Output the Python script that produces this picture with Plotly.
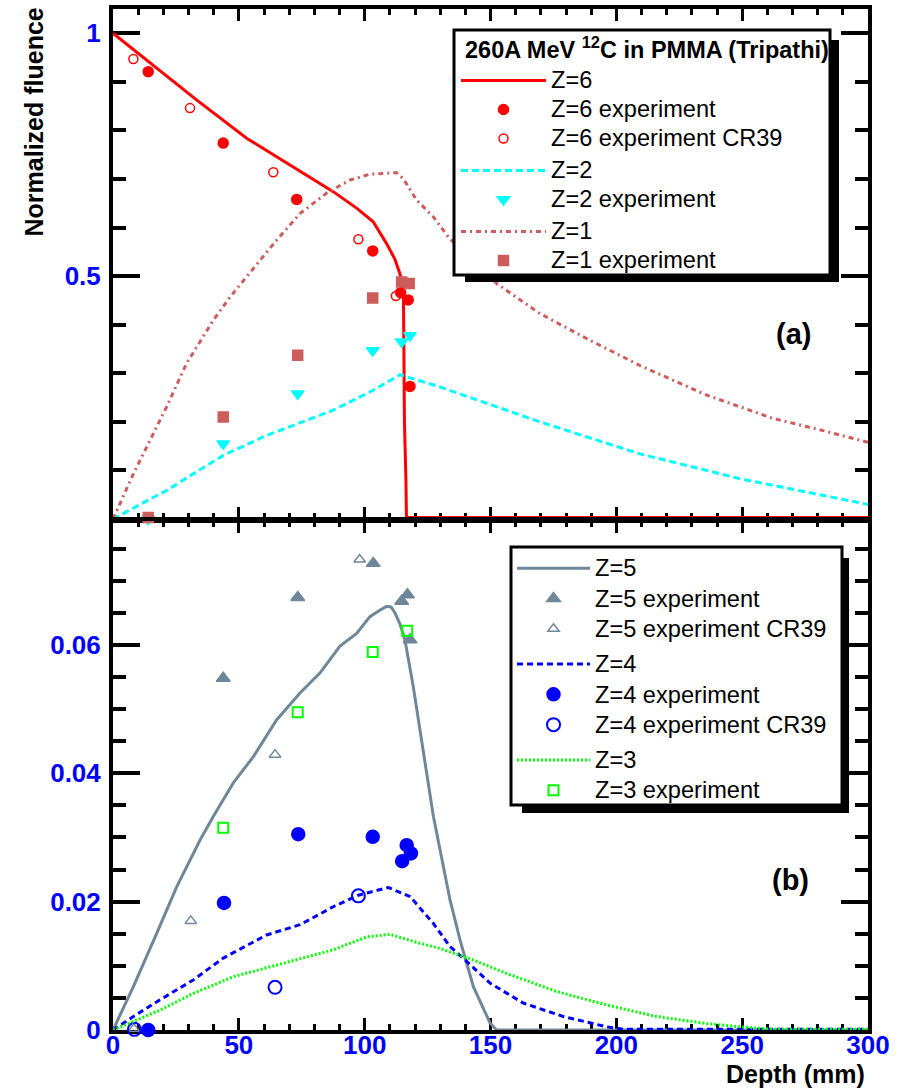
import plotly.graph_objects as go

# ---------------- data ----------------
# Panel (a): Z=6, Z=2, Z=1
z6_x = [0, 13.4, 33.2, 53.1, 65, 87.5, 96.8, 103.4, 108.7, 112, 114, 115.4, 115.5, 115.6, 115.8, 116.4, 116.6, 300]
z6_y = [1.0, 0.945, 0.863, 0.784, 0.746, 0.674, 0.640, 0.612, 0.567, 0.535, 0.505, 0.48, 0.40, 0.32, 0.20, 0.079, 0.003, 0.003]
z6_exp_x = [14, 43.8, 73, 103.2, 114.3, 117.3, 118]
z6_exp_y = [0.921, 0.774, 0.658, 0.552, 0.466, 0.451, 0.273]
z6_cr39_x = [8.1, 30.6, 63.7, 97.5, 112.4]
z6_cr39_y = [0.947, 0.846, 0.714, 0.576, 0.459]

z2_x = [0, 21.3, 43.8, 61, 87.5, 103.4, 114, 118, 129.9, 169.6, 209.4, 249.1, 275.6, 300]
z2_y = [0.0, 0.059, 0.131, 0.172, 0.224, 0.265, 0.297, 0.291, 0.272, 0.200, 0.134, 0.083, 0.055, 0.030]
z2_exp_x = [14, 43.8, 73.4, 103.2, 114.7, 118]
z2_exp_y = [0.0, 0.155, 0.258, 0.347, 0.365, 0.378]

z1_x = [0, 8.1, 14.7, 21.3, 29.2, 39.8, 46.5, 65, 74.3, 84.9, 94.2, 102.1, 112.7, 115.3,
        120.6, 127.3, 133.2, 140, 152.4, 169.6, 189.5, 209.4, 235.9, 262.3, 282.2, 300]
z1_y = [0.0, 0.093, 0.162, 0.231, 0.320, 0.409, 0.457, 0.574, 0.629, 0.671, 0.698, 0.710, 0.713, 0.701,
        0.657, 0.622, 0.581, 0.545, 0.485, 0.423, 0.368, 0.316, 0.255, 0.207, 0.182, 0.158]
z1_exp_x = [14, 43.8, 73.4, 103.2, 114.7, 117.7]
z1_exp_y = [0.003, 0.210, 0.337, 0.455, 0.488, 0.485]

# Panel (b): Z=5, Z=4, Z=3
z5_x = [0, 8.1, 17.4, 25.3, 34.6, 39.9, 47.8, 55.8, 65, 74.3, 82.2, 90.2, 96.8, 102.1, 106, 108.7,
        110.5, 112, 114, 116, 119.3, 123.3, 127.3, 133.9, 137.9, 143.2, 149.8, 152.4, 300]
z5_y = [0.0, 0.00675, 0.0151, 0.0223, 0.0296, 0.0333, 0.0385, 0.0426, 0.0483, 0.0525, 0.0556, 0.0598,
        0.0618, 0.0644, 0.0654, 0.0660, 0.0659, 0.0650, 0.0633, 0.0608, 0.0535, 0.0431, 0.0333, 0.0203,
        0.0140, 0.00675, 0.0011, 0.0, 0.0]
z5_exp_x = [43.8, 73.4, 103.4, 114.7, 117, 118]
z5_exp_y = [0.0548, 0.0674, 0.0727, 0.0668, 0.0678, 0.0608]
z5_cr39_x = [8.3, 30.9, 64.4, 98]
z5_cr39_y = [0.0002, 0.0170, 0.0429, 0.0733]

z4_x = [0, 8.1, 18.7, 31.9, 43.8, 61, 74.3, 87.5, 97.5, 109.4, 118, 127.3, 133.9, 140.5, 149.8,
        163, 178.9, 196.1, 203, 300]
z4_y = [0.0, 0.0021, 0.0047, 0.0078, 0.0112, 0.0148, 0.0164, 0.0192, 0.0210, 0.0222, 0.0208, 0.0166,
        0.0130, 0.0107, 0.0073, 0.0042, 0.0021, 0.0005, 0.0001, 0.0001]
z4_exp_x = [14, 44.1, 73.6, 103.2, 114.9, 116.7, 118.4]
z4_exp_y = [0.0, 0.0198, 0.0305, 0.0301, 0.0263, 0.0288, 0.0275]
z4_cr39_x = [8.5, 64.4, 97.5]
z4_cr39_y = [0.0001, 0.00665, 0.0209]

z3_x = [0, 18.7, 31.9, 47.8, 67.7, 87.5, 100.8, 110, 122, 129.9, 143.2, 156.4, 176.3, 196.1,
        216, 235.9, 249.1, 262.3, 300]
z3_y = [0.0, 0.0031, 0.0057, 0.0083, 0.0104, 0.0125, 0.0145, 0.0149, 0.0135, 0.0127, 0.0109, 0.0088,
        0.0060, 0.0039, 0.0021, 0.0010, 0.0005, 0.0001, 0.0001]
z3_exp_x = [43.8, 73.4, 103.2, 116.9]
z3_exp_y = [0.0315, 0.0495, 0.0589, 0.0622]

x_ticks = [0, 50, 100, 150, 200, 250, 300]

# ---------------- styles ----------------
RED = "#FF0000"
CYAN = "#00FFFF"
ROSE = "#CD5C5C"
SLATE = "#6F8798"
BLUE = "#0000FF"
GREEN = "#00FF00"
FONT = "Liberation Sans, Arial, Helvetica, sans-serif"

W, H = 906, 1088


def px(v):
    return v / W


def py(v):
    return 1 - v / H


def big(s):
    # legend entries are drawn a little larger than the row pitch implies
    return '<span style="font-size:23.6px">' + s + "</span>"


fig = go.Figure()


def line(x, y, name, color, dash, group, legend, xa, ya, width=3):
    fig.add_trace(go.Scatter(x=x, y=y, mode="lines", name=big(name), legendgroup=group, legend=legend,
                             line=dict(color=color, width=width, dash=dash), xaxis=xa, yaxis=ya))


def pts(x, y, name, color, symbol, size, group, legend, xa, ya, lw=1.5):
    fig.add_trace(go.Scatter(x=x, y=y, mode="markers", name=big(name), legendgroup=group, legend=legend,
                             marker=dict(color=color, symbol=symbol, size=size,
                                         line=dict(color=color, width=lw)),
                             xaxis=xa, yaxis=ya, cliponaxis=False))


# panel (a)
line(z6_x, z6_y, "Z=6", RED, "solid", "z6", "legend", "x", "y")
pts(z6_exp_x, z6_exp_y, "Z=6 experiment", RED, "circle", 10, "z6", "legend", "x", "y")
pts(z6_cr39_x, z6_cr39_y, "Z=6 experiment CR39", RED, "circle-open", 9, "z6", "legend", "x", "y")
line(z2_x, z2_y, "Z=2", CYAN, "7px,4px", "z2", "legend", "x", "y")
pts(z2_exp_x, z2_exp_y, "Z=2 experiment", CYAN, "triangle-down", 11, "z2", "legend", "x", "y")
line(z1_x, z1_y, "Z=1", ROSE, "5px,4px,2px,4px", "z1", "legend", "x", "y")
pts(z1_exp_x, z1_exp_y, "Z=1 experiment", ROSE, "square", 10, "z1", "legend", "x", "y")

# panel (b)
line(z5_x, z5_y, "Z=5", SLATE, "solid", "z5", "legend2", "x2", "y2")
pts(z5_exp_x, z5_exp_y, "Z=5 experiment", SLATE, "triangle-up", 12, "z5", "legend2", "x2", "y2")
pts(z5_cr39_x, z5_cr39_y, "Z=5 experiment CR39", SLATE, "triangle-up-open", 10, "z5", "legend2", "x2", "y2")
line(z4_x, z4_y, "Z=4", BLUE, "6px,4px", "z4", "legend2", "x2", "y2")
pts(z4_exp_x, z4_exp_y, "Z=4 experiment", BLUE, "circle", 13, "z4", "legend2", "x2", "y2")
pts(z4_cr39_x, z4_cr39_y, "Z=4 experiment CR39", BLUE, "circle-open", 13, "z4", "legend2", "x2", "y2", lw=2)
line(z3_x, z3_y, "Z=3", GREEN, "2px,2px", "z3", "legend2", "x2", "y2")
pts(z3_exp_x, z3_exp_y, "Z=3 experiment", GREEN, "square-open", 10, "z3", "legend2", "x2", "y2", lw=2)

# ---------------- axes ----------------
XDOM = [px(113), px(868)]
tickfont = dict(family=FONT, size=26, color=BLUE, weight="bold")
common = dict(showline=True, linecolor="black", linewidth=4, mirror="ticks", ticks="inside",
              tickcolor="black", showgrid=False, zeroline=False, tickfont=tickfont,
              layer="below traces", automargin=False)

xcommon = dict(common, range=[0, 300], tickmode="array", tickvals=x_ticks, ticklen=12, tickwidth=3,
               minor=dict(tickmode="linear", tick0=0, dtick=10, ticklen=6, tickwidth=3,
                          tickcolor="black", ticks="inside", showgrid=False))

fig.update_layout(
    xaxis=dict(xcommon, domain=XDOM, anchor="y", showticklabels=False),
    xaxis2=dict(xcommon, domain=XDOM, anchor="y2", matches="x",
                ticktext=[str(v) for v in x_ticks], ticklabelstandoff=-11),
    yaxis=dict(common, domain=[py(519), py(9)], anchor="x", range=[0, 1.05],
               tickmode="array", tickvals=[0.5, 1.0], ticktext=["0.5", "1"],
               ticklen=27, tickwidth=4, ticklabelstandoff=3,
               minor=dict(tickmode="linear", tick0=0, dtick=0.1, ticklen=13, tickwidth=4,
                          tickcolor="black", ticks="inside", showgrid=False)),
    yaxis2=dict(common, domain=[py(1030), py(521)], anchor="x2", range=[0, 0.0793],
                tickmode="array", tickvals=[0, 0.02, 0.04, 0.06], ticktext=["0", "0.02", "0.04", "0.06"],
                ticklen=27, tickwidth=4, ticklabelstandoff=3,
                minor=dict(tickmode="linear", tick0=0, dtick=0.005, ticklen=13, tickwidth=4,
                           tickcolor="black", ticks="inside", showgrid=False)),
)

# ---------------- legend boxes with drop shadow ----------------
shapes = []


def legend_box(x0, y0, x1, y1, sx0, sy0, sx1, sy1):
    shapes.append(dict(type="rect", xref="paper", yref="paper", layer="above",
                       x0=px(sx0), x1=px(sx1), y0=py(sy1), y1=py(sy0),
                       fillcolor="black", line=dict(width=0)))
    shapes.append(dict(type="rect", xref="paper", yref="paper", layer="above",
                       x0=px(x0), x1=px(x1), y0=py(y1), y1=py(y0),
                       fillcolor="white", line=dict(color="black", width=3)))


legend_box(454, 30, 830, 275, 465, 40, 839, 282)
legend_box(511, 547, 842, 805, 522, 558, 849, 813)

fig.update_layout(
    shapes=shapes,
    legend=dict(x=px(456), y=py(61), xanchor="left", yanchor="top", bgcolor="rgba(0,0,0,0)",
                borderwidth=0, font=dict(family=FONT, size=20, color="black"),
                traceorder="grouped", tracegroupgap=3, itemwidth=85),
    legend2=dict(x=px(512), y=py(548), xanchor="left", yanchor="top", bgcolor="rgba(0,0,0,0)",
                 borderwidth=0, font=dict(family=FONT, size=21, color="black"),
                 traceorder="grouped", tracegroupgap=5, itemwidth=73),
)

# ---------------- annotations ----------------
fig.add_annotation(text="<b>260A MeV <sup>12</sup>C in PMMA (Tripathi)</b>", xref="paper", yref="paper",
                   x=px(463), y=py(48), xanchor="left", yanchor="middle", showarrow=False,
                   font=dict(family=FONT, size=23.5, color="black"))
fig.add_annotation(text="<b>Normalized fluence</b>", xref="paper", yref="paper", x=px(34), y=py(6),
                   xanchor="center", yanchor="top", textangle=-90, showarrow=False,
                   font=dict(family=FONT, size=25, color="black"))
fig.add_annotation(text="<b>Depth (mm)</b>", xref="paper", yref="paper", x=px(867), y=py(1074),
                   xanchor="right", yanchor="middle", showarrow=False,
                   font=dict(family=FONT, size=25, color="black"))
fig.add_annotation(text="<b>(a)</b>", xref="paper", yref="paper", x=px(793), y=py(334),
                   xanchor="center", yanchor="middle", showarrow=False,
                   font=dict(family=FONT, size=29, color="black"))
fig.add_annotation(text="<b>(b)</b>", xref="paper", yref="paper", x=px(790), y=py(880),
                   xanchor="center", yanchor="middle", showarrow=False,
                   font=dict(family=FONT, size=29, color="black"))

fig.update_layout(width=W, height=H, autosize=False, margin=dict(l=0, r=0, t=0, b=0, pad=0),
                  paper_bgcolor="white", plot_bgcolor="white", showlegend=True,
                  font=dict(family=FONT))

fig.write_html("out.html")
